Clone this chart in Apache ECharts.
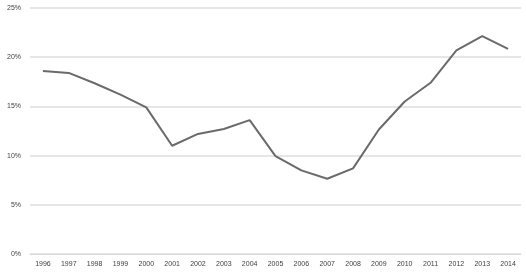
<!DOCTYPE html>
<html><head><meta charset="utf-8">
<script src="https://cdn.jsdelivr.net/npm/echarts@6/dist/echarts.min.js"></script>
<style>html,body{margin:0;padding:0;background:#fff}#c{width:526px;height:274px}</style>
</head><body><div id="c"></div>
<script>
const years = ['1996','1997','1998','1999','2000','2001','2002','2003','2004','2005','2006','2007','2008','2009','2010','2011','2012','2013','2014'];
const values = [18.6,18.4,17.35,16.2,14.9,11.0,12.2,12.7,13.6,9.95,8.5,7.65,8.7,12.65,15.5,17.4,20.7,22.15,20.85];
const yTicks = [0,5,10,15,20,25];
const chart = echarts.init(document.getElementById('c'));
chart.setOption({
  animation:false,
  grid:{left:30,right:5,top:8,bottom:20},
  xAxis:{type:'category',data:years,boundaryGap:true,
    axisLine:{lineStyle:{color:'#d9d9d9',width:1}},axisTick:{show:false},
    axisLabel:{color:'#404040',fontSize:7,fontFamily:'Liberation Sans',margin:7}},
  yAxis:{type:'value',min:yTicks[0],max:yTicks[yTicks.length-1],interval:5,
    axisLine:{show:false},axisTick:{show:false},
    splitLine:{lineStyle:{color:'#dedede',width:1.5}},
    axisLabel:{color:'#404040',fontSize:7,fontFamily:'Liberation Sans',margin:9,formatter:v=>v+'%'}},
  series:[{type:'line',data:values,symbol:'none',lineStyle:{color:'#6a6a6a',width:2}}]
});
</script></body></html>
